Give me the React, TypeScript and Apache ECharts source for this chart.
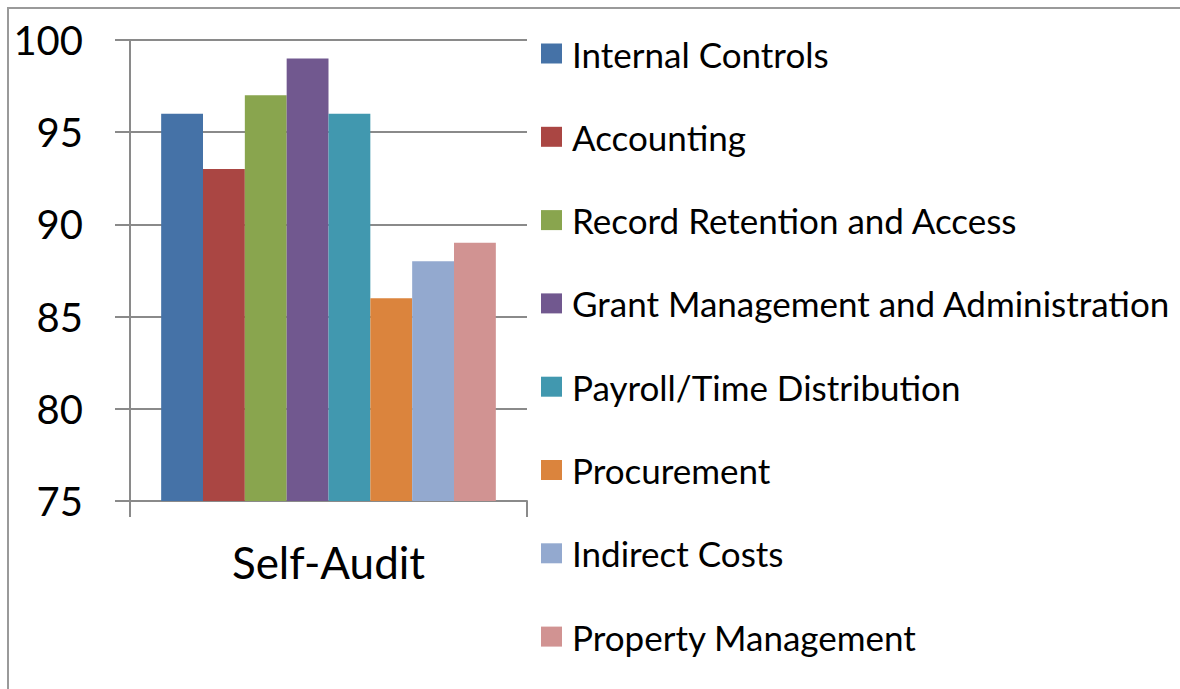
import React, { useEffect, useRef } from "react";
import * as echarts from "echarts";

const categories = ["Self-Audit"];
const seriesNames = [
  "Internal Controls",
  "Accounting",
  "Record Retention and Access",
  "Grant Management and Administration",
  "Payroll/Time Distribution",
  "Procurement",
  "Indirect Costs",
  "Property Management",
];
const seriesValues = [96, 93, 97, 99, 96, 86, 88, 89];
const seriesColors = [
  "#4572A7",
  "#AA4643",
  "#89A54E",
  "#71588F",
  "#4198AF",
  "#DB843D",
  "#93A9CF",
  "#D19392",
];
const yMin = 75;
const yMax = 100;
const yInterval = 5;

export default function App() {
  const ref = useRef<HTMLDivElement>(null);
  useEffect(() => {
    if (!ref.current) return;
    const chart = echarts.init(ref.current, undefined, { renderer: "svg" });
    const font = "Lato";
    const gray = "#8a8a8a";
    chart.setOption({
      animation: false,
      backgroundColor: "#ffffff",
      textStyle: { fontFamily: font },
      graphic: [
        {
          type: "rect",
          shape: { x: 8, y: 8, width: 1200, height: 720 },
          style: { fill: "none", stroke: "#9a9a9a", lineWidth: 2 },
          silent: true,
        },
      ],
      grid: { left: 130, right: 653, top: 40, bottom: 188, containLabel: false },
      legend: {
        orient: "vertical",
        left: 536,
        top: 31,
        icon: "rect",
        itemWidth: 21,
        itemHeight: 20,
        itemGap: 48.3,
        textStyle: {
          fontFamily: font,
          fontSize: 35,
          lineHeight: 35,
          color: "#000",
          padding: [0, 0, 0, 5],
        },
        data: seriesNames,
      },
      xAxis: {
        type: "category",
        data: categories,
        axisLine: { show: true, lineStyle: { color: gray, width: 2 } },
        axisTick: { show: true, length: 16, lineStyle: { color: gray, width: 2 } },
        axisLabel: { fontFamily: font, fontSize: 44, color: "#000", margin: 39 },
      },
      yAxis: {
        type: "value",
        min: yMin,
        max: yMax,
        interval: yInterval,
        axisLine: { show: true, lineStyle: { color: gray, width: 2 } },
        axisTick: { show: true, length: 15, lineStyle: { color: gray, width: 2 } },
        splitLine: { show: true, lineStyle: { color: gray, width: 2 } },
        axisLabel: { fontFamily: font, fontSize: 40, color: "#000", margin: 47 },
      },
      series: seriesNames.map((name, i) => ({
        name,
        type: "bar",
        data: [seriesValues[i]],
        barGap: "0%",
        barCategoryGap: "15.7%",
        itemStyle: { color: seriesColors[i] },
      })),
    });
    return () => chart.dispose();
  }, []);
  return (
    <div
      ref={ref}
      style={{ position: "absolute", left: 0, top: 0, width: 1180, height: 689 }}
    />
  );
}
